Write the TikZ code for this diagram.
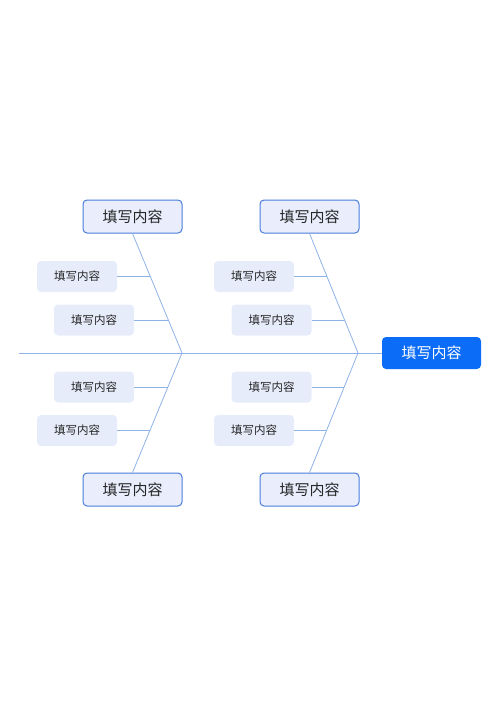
\documentclass[tikz,border=0pt]{standalone}
\usepackage{fontspec}
\usetikzlibrary{calc}
\newfontfamily\cjk{Noto Sans CJK SC}
\definecolor{bone}{HTML}{8DB3E6}
\definecolor{catfill}{HTML}{E9EDFC}
\definecolor{catdraw}{HTML}{4A7DDB}
\definecolor{subfill}{HTML}{E7ECFB}
\definecolor{headfill}{HTML}{0A6CF7}
\begin{document}
\begin{tikzpicture}[x=1pt,y=-1pt,
  cat/.style={draw=catdraw,line width=1pt,fill=catfill,rounded corners=4pt,minimum width=99pt,minimum height=33pt,inner sep=0pt,font=\cjk\fontsize{15}{15}\selectfont,text=black!85},
  sub/.style={fill=subfill,rounded corners=4pt,minimum width=80pt,minimum height=31pt,inner sep=0pt,font=\cjk\fontsize{11.5}{11.5}\selectfont,text=black!85},
  head/.style={fill=headfill,rounded corners=4pt,minimum width=99pt,minimum height=32pt,inner sep=0pt,font=\cjk\fontsize{15}{15}\selectfont,text=white},
  boneline/.style={draw=bone,line width=0.8pt}]
\useasboundingbox (0,0) rectangle (500,707);
% head
\node[head] (head) at (431.5,353) {填写内容};
\coordinate (tail) at (19,353);
\coordinate (j1) at (182,353);
\coordinate (j2) at (358,353);
% categories
\node[cat] (c1) at (132.5,216.5) {填写内容};
\node[cat] (c2) at (309.5,216.5) {填写内容};
\node[cat] (c3) at (132.5,489.5) {填写内容};
\node[cat] (c4) at (309.5,489.5) {填写内容};
% spine
\draw[boneline] (tail) -- (head.west);
% bones
\draw[boneline] (c1.south) -- (j1) -- (c3.north);
\draw[boneline] (c2.south) -- (j2) -- (c4.north);
% sub nodes
\node[sub] (s11) at (77,276.5) {填写内容};
\node[sub] (s12) at (94,320) {填写内容};
\node[sub] (s21) at (254,276.5) {填写内容};
\node[sub] (s22) at (271.5,320) {填写内容};
\node[sub] (s31) at (94,387) {填写内容};
\node[sub] (s32) at (77,430.5) {填写内容};
\node[sub] (s41) at (271.5,387) {填写内容};
\node[sub] (s42) at (254,430.5) {填写内容};
% attachment points on bones
\coordinate (p11) at ($(c1.south)!0.363!(j1)$);
\coordinate (p12) at ($(c1.south)!0.725!(j1)$);
\coordinate (p21) at ($(c2.south)!0.363!(j2)$);
\coordinate (p22) at ($(c2.south)!0.725!(j2)$);
\coordinate (p31) at ($(c3.north)!0.717!(j1)$);
\coordinate (p32) at ($(c3.north)!0.354!(j1)$);
\coordinate (p41) at ($(c4.north)!0.717!(j2)$);
\coordinate (p42) at ($(c4.north)!0.354!(j2)$);
% sub connectors
\draw[boneline] (s11.east) -- (s11.east -| p11);
\draw[boneline] (s12.east) -- (s12.east -| p12);
\draw[boneline] (s21.east) -- (s21.east -| p21);
\draw[boneline] (s22.east) -- (s22.east -| p22);
\draw[boneline] (s31.east) -- (s31.east -| p31);
\draw[boneline] (s32.east) -- (s32.east -| p32);
\draw[boneline] (s41.east) -- (s41.east -| p41);
\draw[boneline] (s42.east) -- (s42.east -| p42);
\end{tikzpicture}
\end{document}
